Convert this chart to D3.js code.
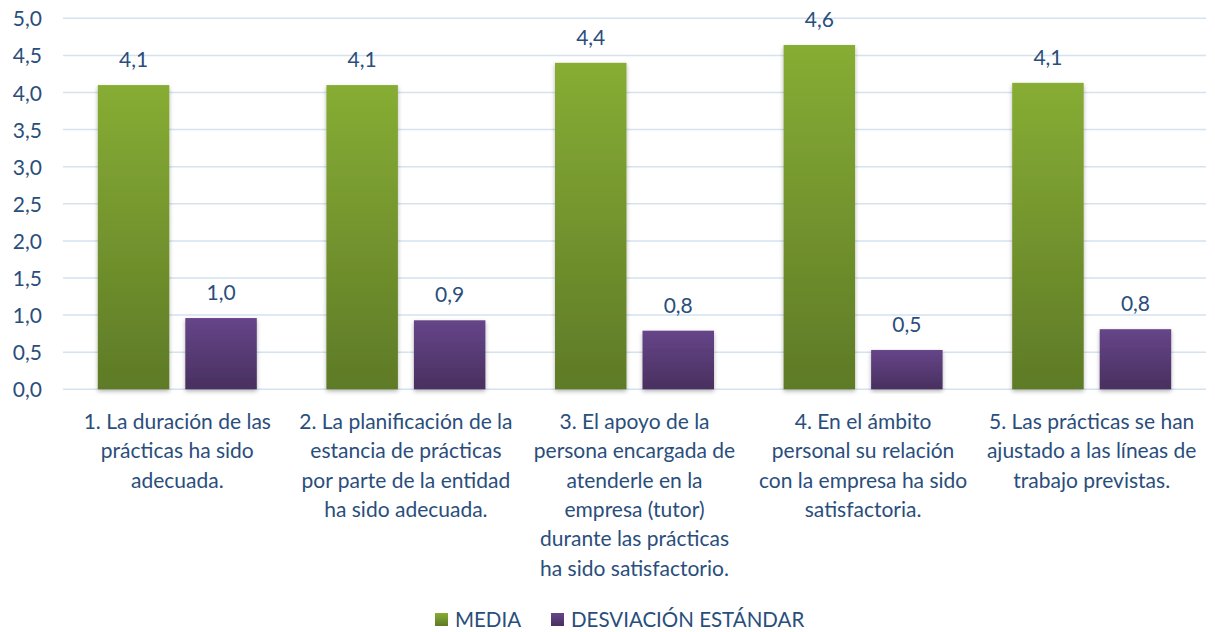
<!DOCTYPE html>
<html>
<head>
<meta charset="utf-8">
<script src="https://cdn.jsdelivr.net/npm/d3@7"></script>
<style>
  body { margin: 0; background: #fff; }
  svg text { font-family: Lato, "Open Sans", sans-serif; fill: #2a4e7c; }
</style>
</head>
<body>
<svg width="1215" height="632"></svg>
<script>
// categories, split in lines as in the original
const categories = [
	['1. La duración de las', 'prácticas ha sido', 'adecuada.'],
	['2. La planificación de la', 'estancia de prácticas', 'por parte de la entidad', 'ha sido adecuada.'],
	['3. El apoyo de la', 'persona encargada de', 'atenderle en la', 'empresa (tutor)', 'durante las prácticas', 'ha sido satisfactorio.'],
	['4. En el ámbito', 'personal su relación', 'con la empresa ha sido', 'satisfactoria.'],
	['5. Las prácticas se han', 'ajustado a las líneas de', 'trabajo previstas.']
];
const media = [4.10, 4.10, 4.40, 4.64, 4.13];
const desviacion = [0.96, 0.93, 0.79, 0.53, 0.81];
const seriesNames = ['MEDIA', 'DESVIACIÓN ESTÁNDAR'];
const yTicks = [0, 0.5, 1, 1.5, 2, 2.5, 3, 3.5, 4, 4.5, 5];

const svg = d3.select('svg');
const plotLeft = 63, plotRight = 1206, plotTop = 18.3, plotBottom = 389.3;

const x = d3.scaleBand()
	.domain(d3.range(categories.length))
	.range([plotLeft, plotRight])
	.paddingInner(0)
	.paddingOuter(0);
const xs = d3.scaleBand()
	.domain([0, 1])
	.range([34.8, x.bandwidth() - 34.8])
	.paddingInner(0.183);
const y = d3.scaleLinear().domain([0, 5]).range([plotBottom, plotTop]);

const defs = svg.append('defs');
const grads = [['gGreen', '#87ad34', '#5e7a27'], ['gPurple', '#664589', '#48305f']];
grads.forEach(g => {
	const lg = defs.append('linearGradient').attr('id', g[0])
		.attr('x1', 0).attr('y1', 0).attr('x2', 0).attr('y2', 1);
	lg.append('stop').attr('offset', '0%').attr('stop-color', g[1]);
	lg.append('stop').attr('offset', '100%').attr('stop-color', g[2]);
});
const f = defs.append('filter').attr('id', 'shadow')
	.attr('x', '-20%').attr('y', '-5%').attr('width', '140%').attr('height', '115%');
f.append('feDropShadow').attr('dx', 0).attr('dy', 2).attr('stdDeviation', 2)
	.attr('flood-color', '#000').attr('flood-opacity', 0.3);

// gridlines
svg.append('g')
	.selectAll('line')
	.data(yTicks)
	.join('line')
	.attr('x1', plotLeft).attr('x2', plotRight)
	.attr('y1', d => y(d)).attr('y2', d => y(d))
	.attr('stroke', '#d5e2f0').attr('stroke-width', 1.5);

// y axis
const fmt = d => d3.format('.1f')(d).replace('.', ',');
const yAxis = svg.append('g')
	.attr('transform', `translate(${plotLeft},0)`)
	.call(d3.axisLeft(y).tickValues(yTicks).tickFormat(fmt).tickSize(0).tickPadding(21));
yAxis.select('.domain').remove();
yAxis.selectAll('text')
	.style('font-size', '21px')
	.attr('fill', '#2a4e7c')
	.attr('dy', '0.36em');

const series = [media, desviacion];
const fills = ['url(#gGreen)', 'url(#gPurple)'];

series.forEach((vals, si) => {
	const g = svg.append('g');
	g.selectAll('rect')
		.data(vals)
		.join('rect')
		.attr('x', (d, i) => x(i) + xs(si))
		.attr('y', d => y(d))
		.attr('width', xs.bandwidth())
		.attr('height', d => y(0) - y(d))
		.attr('fill', fills[si])
		.attr('filter', 'url(#shadow)');
	g.selectAll('text')
		.data(vals)
		.join('text')
		.attr('x', (d, i) => x(i) + xs(si) + xs.bandwidth() / 2)
		.attr('y', d => y(d) - 18)
		.attr('text-anchor', 'middle')
		.style('font-size', '21px')
		.text(d => fmt(d));
});

// category labels
const cat = svg.append('g');
cat.selectAll('text')
	.data(categories)
	.join('text')
	.attr('x', (d, i) => x(i) + x.bandwidth() / 2)
	.attr('y', 429)
	.attr('text-anchor', 'middle')
	.style('font-size', '21px')
	.each(function (lines) {
		d3.select(this).selectAll('tspan')
			.data(lines)
			.join('tspan')
			.attr('x', d3.select(this).attr('x'))
			.attr('dy', (d, j) => j === 0 ? 0 : 29.3)
			.text(d => d);
	});

// legend
const legendX = [435, 551];
const leg = svg.append('g');
seriesNames.forEach((name, i) => {
	leg.append('rect')
		.attr('x', legendX[i]).attr('y', 613)
		.attr('width', 13).attr('height', 13)
		.attr('fill', fills[i]);
	leg.append('text')
		.attr('x', legendX[i] + 20).attr('y', 627)
		.style('font-size', '20.5px')
		.text(name);
});
</script>
</body>
</html>
